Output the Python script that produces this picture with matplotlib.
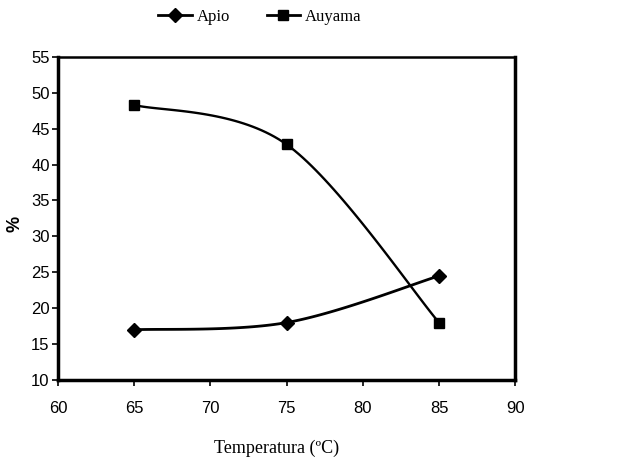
import numpy as np
import matplotlib.pyplot as plt
from matplotlib.lines import Line2D

# data
temperatura = [65, 75, 85]
apio = [17.0, 18.0, 24.5]
auyama = [48.3, 42.8, 18.0]


def excel_smooth(x, y, n=40):
    """Bezier smoothing like Excel's 'smoothed line' option."""
    x = np.asarray(x, dtype=float)
    y = np.asarray(y, dtype=float)
    px = np.concatenate([[x[0]], x, [x[-1]]])
    py = np.concatenate([[y[0]], y, [y[-1]]])
    xs, ys = [], []
    t = np.linspace(0, 1, n)
    for i in range(1, len(px) - 2):
        p0 = np.array([px[i], py[i]])
        p3 = np.array([px[i + 1], py[i + 1]])
        p1 = p0 + (np.array([px[i + 1], py[i + 1]]) - np.array([px[i - 1], py[i - 1]])) / 6
        p2 = p3 - (np.array([px[i + 2], py[i + 2]]) - np.array([px[i], py[i]])) / 6
        b = ((1 - t) ** 3)[:, None] * p0 + (3 * (1 - t) ** 2 * t)[:, None] * p1 \
            + (3 * (1 - t) * t ** 2)[:, None] * p2 + (t ** 3)[:, None] * p3
        xs.extend(b[:, 0])
        ys.extend(b[:, 1])
    return np.array(xs), np.array(ys)


fig = plt.figure(figsize=(6.28, 4.66), dpi=100)
ax = fig.add_axes([0.0924, 0.1845, 0.728, 0.6935])

sx, sy = excel_smooth(temperatura, apio)
ax.plot(sx, sy, color='black', lw=2, zorder=3)
ax.plot(temperatura, apio, 'D', color='black', ms=7.5, zorder=4)

sx, sy = excel_smooth(temperatura, auyama)
ax.plot(sx, sy, color='black', lw=1.7, zorder=3)
ax.plot(temperatura, auyama, 's', color='black', ms=7.5, zorder=4)

ax.set_xlim(60, 90)
ax.set_ylim(10, 55)
ax.set_xticks(range(60, 91, 5))
ax.set_yticks(range(10, 56, 5))
ax.tick_params(direction='out', length=4, width=1.2, labelsize=12)
for lab in ax.get_xticklabels() + ax.get_yticklabels():
    lab.set_fontfamily('Liberation Sans')
for side in ['left', 'bottom', 'right']:
    ax.spines[side].set_linewidth(2.5)
ax.spines['top'].set_linewidth(1.8)
ax.tick_params(axis='x', pad=11)
ax.tick_params(axis='y', pad=2)

fig.text(0.44, 0.02, 'Temperatura (ºC)', ha='center', va='bottom',
         fontsize=13, family='Liberation Serif')
fig.text(0.024, 0.52, '%', ha='center', va='center', rotation=90,
         fontsize=13, fontweight='bold', family='Liberation Sans')

handles = [Line2D([], [], color='black', lw=2, marker='D', ms=7),
           Line2D([], [], color='black', lw=2, marker='s', ms=7)]
fig.legend(handles, ['Apio', 'Auyama'], loc='center', bbox_to_anchor=(0.414, 0.963),
           ncol=2, frameon=False, prop={'family': 'Liberation Serif', 'size': 12},
           handlelength=2.0, columnspacing=2.2, handletextpad=0.3)

plt.savefig('out.png', dpi=100)
